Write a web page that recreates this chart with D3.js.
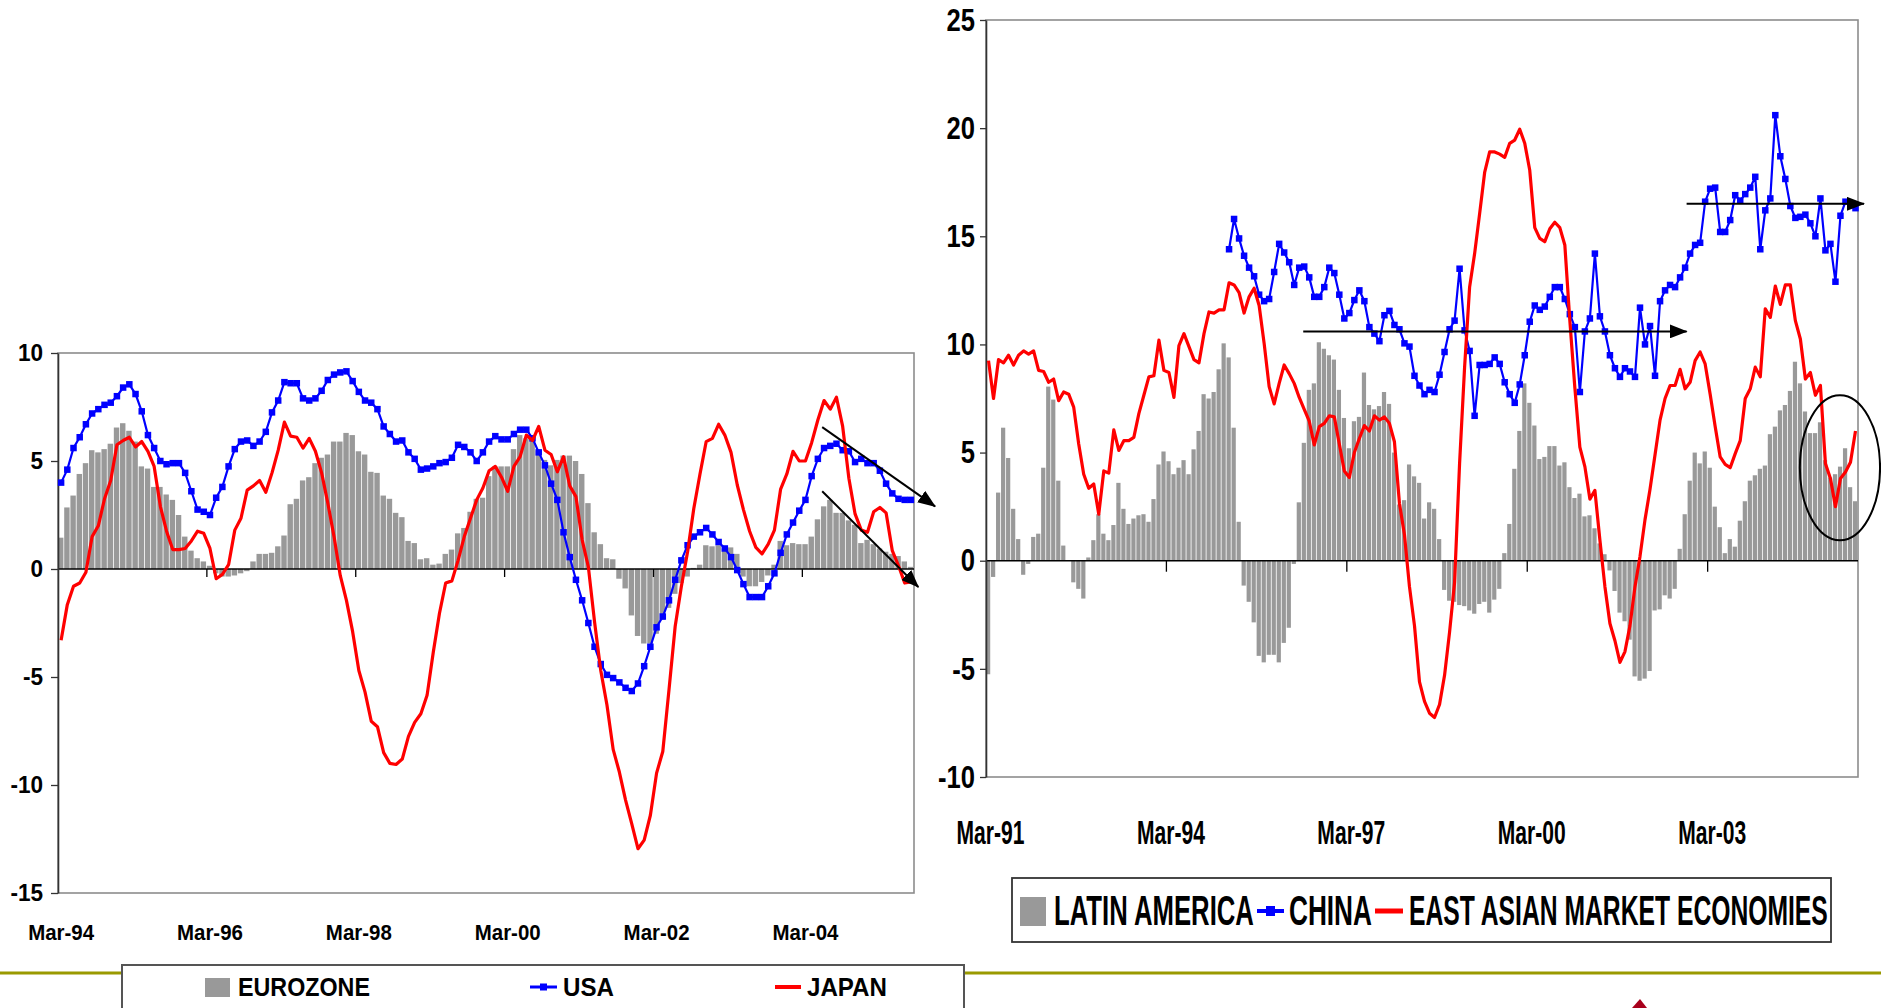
<!DOCTYPE html>
<html>
<head>
<meta charset="utf-8">
<script src="https://cdn.jsdelivr.net/npm/d3@7"></script>
<style>
  body { margin: 0; background: #fff; }
  svg { display: block; }
</style>
</head>
<body>
<svg id="chart" width="1881" height="1008"></svg>
<script>
// ---- data: left panel (monthly, Mar-94 .. Aug-05)
var leftCats = d3.timeMonth.range(new Date(1994, 2, 1), new Date(2005, 8, 1));
var leftTickLabels = ["Mar-94", "Mar-96", "Mar-98", "Mar-00", "Mar-02", "Mar-04"];
var leftYTicks = [10, 5, 0, -5, -10, -15];

var eurozone = [
  1.45, 2.85, 3.4, 4.4, 4.9, 5.5, 5.4, 5.55, 5.8, 6.55, 6.75, 6.4,
  5.9, 4.75, 4.65, 3.8, 3.8, 3.45, 3.2, 2.5, 1.5, 0.85, 0.5, 0.35,
  0.15, -0.2, -0.35, -0.35, -0.3, -0.2, -0.1, 0.35, 0.7, 0.7, 0.75, 1.05,
  1.55, 3.0, 3.25, 4.1, 4.25, 4.9, 5.15, 5.3, 5.9, 5.9, 6.3, 6.2,
  5.45, 5.3, 4.5, 4.45, 3.4, 3.25, 2.6, 2.4, 1.3, 1.2, 0.45, 0.5,
  0.2, 0.25, 0.7, 0.9, 1.65, 1.9, 2.65, 3.25, 3.3, 4.3, 4.75, 4.75,
  4.75, 5.55, 6.2, 6.05, 5.95, 5.5, 5.05, 4.8, 5.05, 5.25, 5.25, 5.0,
  4.4, 3.05, 1.7, 1.15, 0.5, 0.45, -0.45, -0.9, -2.15, -3.1, -3.45, -3.45,
  -3.0, -2.35, -1.8, -1.15, -0.65, -0.35, 0.05, 0.2, 1.1, 1.05, 1.1, 0.95,
  1.0, 0.7, -0.35, -0.8, -0.8, -0.6, -0.3, 0.2, 1.3, 1.1, 1.2, 1.15,
  1.15, 1.5, 2.3, 2.9, 3.2, 2.6, 2.6, 2.25, 2.05, 1.2, 1.35, 1.15,
  0.95, 0.8, 0.7, 0.6, 0.35, 0.1
];

var usa = [
  4.0, 4.6, 5.6, 6.1, 6.7, 7.2, 7.4, 7.6, 7.7, 8.0, 8.4, 8.55,
  8.1, 7.3, 6.2, 5.6, 5.0, 4.85, 4.9, 4.9, 4.45, 3.6, 2.75, 2.65,
  2.5, 3.3, 3.8, 4.75, 5.55, 5.9, 5.95, 5.7, 5.9, 6.35, 7.25, 7.8,
  8.65, 8.6, 8.6, 7.9, 7.8, 7.9, 8.25, 8.75, 9.0, 9.1, 9.15, 8.7,
  8.2, 7.8, 7.7, 7.4, 6.6, 6.25, 5.9, 5.95, 5.4, 5.1, 4.6, 4.65,
  4.75, 4.9, 4.95, 5.15, 5.75, 5.65, 5.4, 5.0, 5.4, 5.9, 6.15, 6.0,
  6.0, 6.25, 6.45, 6.45, 6.05, 5.4, 4.8, 3.95, 3.2, 1.7, 0.55, -0.5,
  -1.45, -2.5, -3.6, -4.4, -4.9, -5.05, -5.25, -5.5, -5.65, -5.3, -4.5, -3.6,
  -2.7, -2.2, -1.45, -0.5, 0.4, 1.1, 1.5, 1.7, 1.9, 1.6, 1.25, 0.95,
  0.55, -0.05, -0.7, -1.3, -1.3, -1.3, -0.8, -0.2, 0.75, 1.6, 2.15, 2.7,
  3.2, 4.3, 5.1, 5.6, 5.7, 5.8, 5.5, 5.45, 4.95, 5.1, 4.9, 4.9,
  4.55, 3.95, 3.5, 3.25, 3.2, 3.2
];

var japan = [
  -3.3, -1.65, -0.8, -0.65, -0.15, 1.5, 2.0, 3.25, 4.1, 5.75, 5.95, 6.1,
  5.65, 5.9, 5.45, 4.75, 2.9, 1.75, 0.9, 0.9, 0.95, 1.3, 1.75, 1.65,
  0.95, -0.45, -0.25, 0.2, 1.8, 2.35, 3.65, 3.85, 4.1, 3.55, 4.45, 5.5,
  6.8, 6.15, 6.1, 5.6, 6.05, 5.45, 4.45, 3.05, 1.5, -0.3, -1.45, -2.9,
  -4.7, -5.7, -7.05, -7.3, -8.5, -9.0, -9.05, -8.8, -7.75, -7.1, -6.7, -5.85,
  -3.85, -2.05, -0.65, -0.55, 0.4, 1.5, 2.35, 3.2, 3.75, 4.55, 4.75, 4.25,
  3.6, 4.75, 5.2, 6.2, 5.95, 6.6, 5.5, 5.3, 4.5, 5.2, 3.85, 3.35,
  1.35, 0.1, -2.45, -4.7, -6.3, -8.35, -9.4, -10.7, -11.8, -12.95, -12.55, -11.4,
  -9.45, -8.45, -5.6, -2.65, -0.8, 0.8, 2.8, 4.4, 5.9, 6.05, 6.7, 6.2,
  5.4, 3.9, 2.75, 1.75, 1.0, 0.7, 1.15, 1.8, 3.7, 4.4, 5.45, 5.0,
  5.0, 5.85, 6.9, 7.8, 7.4, 7.95, 6.6, 4.2, 2.55, 1.8, 1.7, 2.65,
  2.85, 2.6, 0.85, 0.15, -0.65, -0.6
];

// ---- data: right panel (monthly, Mar-91 .. Aug-05)
var rightCats = d3.timeMonth.range(new Date(1991, 2, 1), new Date(2005, 8, 1));
var rightTickLabels = ["Mar-91", "Mar-94", "Mar-97", "Mar-00", "Mar-03"];
var rightYTicks = [25, 20, 15, 10, 5, 0, -5, -10];

var latinAmerica = [
  -5.25, -0.75, 3.15, 6.15, 4.75, 2.4, 1.0, -0.65, -0.15, 1.1, 1.25, 4.3,
  8.05, 7.45, 3.7, 0.7, 0, -1.0, -1.3, -1.75, 0.15, 0.95, 2.15, 1.25,
  0.95, 1.65, 3.6, 2.4, 1.7, 1.95, 2.1, 2.15, 1.8, 2.85, 4.45, 5.05,
  4.6, 4.0, 4.3, 4.65, 4.0, 5.15, 6.0, 7.7, 7.5, 7.8, 8.85, 10.05,
  9.4, 6.15, 1.8, -1.15, -1.9, -2.85, -4.4, -4.7, -4.35, -4.35, -4.7, -3.8,
  -3.1, -0.15, 2.7, 5.45, 7.9, 8.2, 10.1, 9.8, 9.5, 9.3, 7.9, 6.6,
  5.2, 6.45, 6.65, 8.7, 7.2, 7.0, 7.15, 7.8, 7.25, 5.0, 2.6, 2.8,
  4.45, 3.9, 3.6, 1.95, 2.7, 2.4, 1.0, -1.35, -1.85, -1.9, -2.05, -2.1,
  -2.3, -2.45, -2.0, -1.9, -2.4, -1.8, -1.3, 0.35, 1.7, 4.25, 6.0, 8.2,
  7.3, 6.25, 4.7, 4.8, 5.3, 5.3, 4.4, 4.55, 3.4, 2.9, 3.1, 2.05,
  2.1, 1.5, 0.8, 0.3, -0.45, -1.4, -2.4, -2.8, -3.65, -5.35, -5.55, -5.45,
  -5.1, -2.3, -2.25, -1.6, -1.75, -1.3, 0.55, 2.15, 3.7, 5.0, 4.5, 5.05,
  4.3, 2.5, 1.55, 0.35, 1.0, 0.65, 1.85, 2.75, 3.7, 3.95, 4.25, 4.4,
  5.85, 6.2, 6.95, 7.2, 7.85, 9.2, 8.2, 6.9, 5.9, 5.9, 6.4, 4.65,
  3.85, 4.0, 4.35, 5.2, 3.4, 2.75
];

// China series starts in Mar-95 (index 48)
var chinaStart = 48;
var chinaValues = [
  14.4, 15.8, 14.9, 14.1, 13.55, 13.15, 12.3, 12.0, 12.1, 13.35, 14.65, 14.25,
  13.8, 12.75, 13.55, 13.6, 13.1, 12.2, 12.2, 12.65, 13.55, 13.3, 12.3, 11.2,
  11.45, 12.05, 12.5, 12.0, 10.8, 10.5, 10.15, 11.35, 11.55, 10.9, 10.7, 10.05,
  9.9, 8.55, 8.1, 7.7, 7.9, 7.8, 8.6, 9.65, 10.7, 11.1, 13.5, 10.65,
  9.7, 6.7, 9.05, 9.05, 9.1, 9.4, 9.1, 8.25, 7.7, 7.3, 8.15, 9.5,
  11.05, 11.8, 11.6, 11.75, 12.2, 12.65, 12.65, 12.1, 11.4, 10.8, 7.8, 10.6,
  11.2, 14.2, 11.3, 10.6, 9.5, 8.9, 8.5, 8.9, 8.75, 8.5, 11.7, 10.0,
  10.85, 8.55, 12.0, 12.5, 12.75, 12.65, 13.1, 13.55, 14.2, 14.6, 14.7, 16.6,
  17.2, 17.25, 15.2, 15.2, 15.75, 16.9, 16.65, 16.95, 17.25, 17.75, 14.4, 16.2,
  16.75, 20.6, 18.7, 17.65, 16.4, 15.85, 15.9, 16.0, 15.6, 15.0, 16.75, 14.35,
  14.65, 12.9, 15.95, 16.6, 16.45, 16.3
];
var china = rightCats.map(function (d, i) {
  return i < chinaStart ? null : chinaValues[i - chinaStart];
});

var eastAsia = [
  9.25, 7.5, 9.3, 9.15, 9.5, 9.05, 9.5, 9.7, 9.55, 9.7, 8.8, 8.75,
  8.25, 8.4, 7.4, 7.8, 7.7, 7.1, 5.4, 4.0, 3.35, 3.55, 2.15, 4.15,
  4.05, 6.05, 5.1, 5.55, 5.55, 5.7, 6.8, 7.65, 8.5, 8.55, 10.2, 8.8,
  8.7, 7.55, 9.95, 10.5, 9.9, 9.3, 9.15, 10.5, 11.5, 11.45, 11.6, 11.6,
  12.85, 12.75, 12.4, 11.45, 12.2, 12.6, 11.8, 10.05, 8.05, 7.25, 8.2, 9.05,
  8.65, 8.2, 7.55, 7.0, 6.45, 5.35, 6.2, 6.35, 6.7, 6.65, 5.4, 4.15,
  3.85, 5.0, 5.65, 6.25, 6.0, 6.7, 6.5, 6.65, 6.35, 5.5, 2.65, 1.2,
  -1.2, -3.0, -5.6, -6.5, -7.05, -7.25, -6.65, -5.3, -3.3, -1.0, 4.5, 8.95,
  12.65, 14.2, 16.05, 17.95, 18.9, 18.9, 18.8, 18.65, 19.3, 19.45, 19.95, 19.3,
  18.05, 15.4, 14.9, 14.75, 15.35, 15.65, 15.4, 14.6, 11.1, 8.0, 5.25, 4.35,
  2.85, 3.25, 0.95, -1.2, -2.9, -3.7, -4.7, -4.2, -3.0, -1.2, 0.2, 1.9,
  3.3, 4.9, 6.5, 7.5, 8.1, 8.1, 8.85, 7.95, 8.25, 9.25, 9.65, 9.1,
  7.7, 6.2, 4.8, 4.45, 4.3, 4.95, 5.55, 7.5, 7.95, 8.95, 8.5, 11.65,
  11.25, 12.7, 11.85, 12.75, 12.75, 11.1, 10.25, 8.4, 8.7, 7.65, 8.1, 4.5,
  3.8, 2.5, 3.8, 4.1, 4.55, 6.0
];

// annotations, in [month index, value] units
var leftArrows = [
  { from: [122.7, 6.57], to: [140.9, 2.9] },
  { from: [122.7, 3.6], to: [138.2, -0.83] }
];
var rightArrows = [
  { from: [62.8, 10.6], to: [139.3, 10.6] },
  { from: [139.3, 16.5], to: [174.7, 16.5] }
];
var rightCircle = { center: [169.9, 4.3], rx: 8, ry: 3.35 };

// ---- drawing
var FONT = "'Liberation Sans', Arial, Helvetica, sans-serif";
var GREY = "#999999";
var BLUE = "#0000ff";
var RED = "#ff0000";

var svg = d3.select("#chart");

svg
  .append("defs")
  .append("marker")
  .attr("id", "arrow")
  .attr("markerUnits", "userSpaceOnUse")
  .attr("viewBox", "0 0 18 14")
  .attr("markerWidth", 18)
  .attr("markerHeight", 14)
  .attr("refX", 17)
  .attr("refY", 7)
  .attr("orient", "auto")
  .append("path")
  .attr("d", "M0,0L18,7L0,14Z")
  .attr("fill", "#000");

// squeeze text horizontally (condensed look of the source) with a scale transform
function squeeze(sel, k) {
  sel.each(function () {
    var x = +this.getAttribute("x") || 0;
    this.setAttribute("x", x / k);
    this.setAttribute("transform", "scale(" + k + ",1)");
  });
}

function drawPanel(cfg) {
  var x = cfg.x, y = cfg.y;
  var g = svg.append("g");
  var x0 = x.range()[0], x1 = x.range()[1];
  var bw = x.step();
  var cx = function (i) { return x(i) + bw / 2; };

  // plot frame
  g.append("rect")
    .attr("x", x0)
    .attr("y", y.range()[1])
    .attr("width", x1 - x0)
    .attr("height", y.range()[0] - y.range()[1])
    .attr("fill", "none")
    .attr("stroke", "#8c8c8c")
    .attr("stroke-width", 1.6);

  // bars
  g.selectAll("rect.bar")
    .data(cfg.bars)
    .enter()
    .append("rect")
    .attr("class", "bar")
    .attr("x", function (d, i) { return x(i); })
    .attr("y", function (d) { return y(Math.max(0, d)); })
    .attr("width", bw - 0.8)
    .attr("height", function (d) { return Math.abs(y(d) - y(0)); })
    .attr("fill", GREY);

  // zero line + category ticks
  g.append("line")
    .attr("x1", x0).attr("x2", x1)
    .attr("y1", y(0)).attr("y2", y(0))
    .attr("stroke", "#000")
    .attr("stroke-width", 1.5);

  g.selectAll("line.xtick")
    .data(cfg.tickLabels.map(function (d, k) { return k * cfg.every; }).filter(function (d) { return d > 0; }))
    .enter()
    .append("line")
    .attr("class", "xtick")
    .attr("x1", function (d) { return x(d); })
    .attr("x2", function (d) { return x(d); })
    .attr("y1", y(0))
    .attr("y2", y(0) + cfg.xTickLen)
    .attr("stroke", "#000")
    .attr("stroke-width", 1.3);

  // y axis (plain hyphen for negatives, as in the source)
  var ax = g.append("g")
    .attr("transform", "translate(" + x0 + ",0)")
    .call(d3.axisLeft(y)
      .tickValues(cfg.yTicks)
      .tickFormat(function (d) { return String(d); })
      .tickSize(cfg.yTickLen)
      .tickPadding(cfg.yPad)
      .tickSizeOuter(0));
  ax.select(".domain").attr("stroke", "#333").attr("stroke-width", 1.6);
  ax.selectAll(".tick line").attr("stroke", "#333").attr("stroke-width", 1.3);
  ax.selectAll(".tick text")
    .attr("fill", "#000")
    .style("font-family", FONT)
    .style("font-weight", "bold")
    .style("font-size", cfg.yFont + "px")
    .call(squeeze, cfg.ySqueeze);

  // x labels
  g.selectAll("text.xlab")
    .data(cfg.tickLabels)
    .enter()
    .append("text")
    .attr("class", "xlab")
    .attr("x", function (d, k) { return cx(k * cfg.every) + cfg.xLabShift; })
    .attr("y", cfg.xLabY)
    .attr("text-anchor", "middle")
    .style("font-family", FONT)
    .style("font-weight", "bold")
    .style("font-size", cfg.xFont + "px")
    .text(function (d) { return d; })
    .call(squeeze, cfg.xSqueeze);

  // blue series with square markers
  var blueLine = d3.line()
    .defined(function (d) { return d != null; })
    .x(function (d, i) { return cx(i); })
    .y(function (d) { return y(d); });
  g.append("path")
    .datum(cfg.blue)
    .attr("d", blueLine)
    .attr("fill", "none")
    .attr("stroke", BLUE)
    .attr("stroke-width", 2.2);
  var ms = cfg.marker;
  g.selectAll("rect.mk")
    .data(cfg.blue.map(function (d, i) { return { v: d, i: i }; }).filter(function (d) { return d.v != null; }))
    .enter()
    .append("rect")
    .attr("class", "mk")
    .attr("x", function (d) { return cx(d.i) - ms / 2; })
    .attr("y", function (d) { return y(d.v) - ms / 2; })
    .attr("width", ms)
    .attr("height", ms)
    .attr("fill", BLUE);

  // red series
  g.append("path")
    .datum(cfg.red)
    .attr("d", d3.line().x(function (d, i) { return cx(i); }).y(function (d) { return y(d); }))
    .attr("fill", "none")
    .attr("stroke", RED)
    .attr("stroke-width", 3.2)
    .attr("stroke-linejoin", "round");

  // arrows
  g.selectAll("line.arrow")
    .data(cfg.arrows)
    .enter()
    .append("line")
    .attr("class", "arrow")
    .attr("x1", function (d) { return cx(0) + d.from[0] * bw; })
    .attr("y1", function (d) { return y(d.from[1]); })
    .attr("x2", function (d) { return cx(0) + d.to[0] * bw; })
    .attr("y2", function (d) { return y(d.to[1]); })
    .attr("stroke", "#000")
    .attr("stroke-width", 2)
    .attr("marker-end", "url(#arrow)");

  return { g: g, cx: cx, bw: bw };
}

var xL = d3.scaleBand().domain(d3.range(leftCats.length)).range([58, 914]);
var yL = d3.scaleLinear().domain([-15, 10]).range([893, 353]);
var xR = d3.scaleBand().domain(d3.range(rightCats.length)).range([986, 1858]);
var yR = d3.scaleLinear().domain([-10, 25]).range([777, 20]);

drawPanel({
  x: xL, y: yL, bars: eurozone, blue: usa, red: japan,
  yTicks: leftYTicks, tickLabels: leftTickLabels, every: 24,
  xTickLen: 8, yTickLen: 7, yPad: 8, yFont: 24, ySqueeze: 0.94,
  xFont: 22, xSqueeze: 0.93, xLabY: 940, xLabShift: 0,
  marker: 6.5, arrows: leftArrows
});

var right = drawPanel({
  x: xR, y: yR, bars: latinAmerica, blue: china, red: eastAsia,
  yTicks: rightYTicks, tickLabels: rightTickLabels, every: 36,
  xTickLen: 11, yTickLen: 6, yPad: 5, yFont: 32, ySqueeze: 0.8,
  xFont: 34, xSqueeze: 0.62, xLabY: 844, xLabShift: 2,
  marker: 6.5, arrows: rightArrows
});

right.g.append("ellipse")
  .attr("cx", right.cx(0) + rightCircle.center[0] * right.bw)
  .attr("cy", yR(rightCircle.center[1]))
  .attr("rx", rightCircle.rx * right.bw)
  .attr("ry", yR(0) - yR(rightCircle.ry))
  .attr("fill", "none")
  .attr("stroke", "#000")
  .attr("stroke-width", 2);

// ---- slide decoration: olive rule and logo corner
svg.append("line")
  .attr("x1", 0).attr("x2", 1881)
  .attr("y1", 973).attr("y2", 973)
  .attr("stroke", "#9a9a00")
  .attr("stroke-width", 3);
svg.append("path")
  .attr("d", "M1632,1008L1640,999L1647,1008Z")
  .attr("fill", "#a8001c");

// ---- legends: each text is squeezed to the width it takes in the source
function legendText(g, items, y, size) {
  g.selectAll("text")
    .data(items)
    .enter()
    .append("text")
    .attr("x", function (d) { return d.x; })
    .attr("y", y)
    .style("font-family", FONT)
    .style("font-weight", "bold")
    .style("font-size", size + "px")
    .text(function (d) { return d.text; })
    .each(function (d) {
      var k = d.w / this.getComputedTextLength();
      d3.select(this).call(squeeze, k);
    });
}

var legL = svg.append("g");
legL.append("rect")
  .attr("x", 122).attr("y", 965).attr("width", 842).attr("height", 60)
  .attr("fill", "#fff").attr("stroke", "#555").attr("stroke-width", 2);
legL.append("rect").attr("x", 205).attr("y", 978).attr("width", 25).attr("height", 19).attr("fill", GREY);
legL.append("line").attr("x1", 530).attr("x2", 557).attr("y1", 987).attr("y2", 987).attr("stroke", BLUE).attr("stroke-width", 3);
legL.append("rect").attr("x", 540).attr("y", 983.5).attr("width", 7).attr("height", 7).attr("fill", BLUE);
legL.append("line").attr("x1", 775).attr("x2", 801).attr("y1", 987).attr("y2", 987).attr("stroke", RED).attr("stroke-width", 4);
legendText(legL, [
  { text: "EUROZONE", x: 238, w: 132 },
  { text: "USA", x: 563, w: 51 },
  { text: "JAPAN", x: 807, w: 80 }
], 996, 25);

var legR = svg.append("g");
legR.append("rect")
  .attr("x", 1012).attr("y", 878).attr("width", 819).attr("height", 64)
  .attr("fill", "#fff").attr("stroke", "#333").attr("stroke-width", 1.8);
legR.append("rect").attr("x", 1020).attr("y", 897).attr("width", 26).attr("height", 29).attr("fill", GREY);
legR.append("line").attr("x1", 1257).attr("x2", 1284).attr("y1", 911).attr("y2", 911).attr("stroke", BLUE).attr("stroke-width", 4);
legR.append("rect").attr("x", 1266).attr("y", 906).attr("width", 9).attr("height", 10).attr("fill", BLUE);
legR.append("line").attr("x1", 1375).attr("x2", 1403).attr("y1", 911).attr("y2", 911).attr("stroke", RED).attr("stroke-width", 5);
legendText(legR, [
  { text: "LATIN AMERICA", x: 1054, w: 200 },
  { text: "CHINA", x: 1289, w: 83 },
  { text: "EAST ASIAN MARKET ECONOMIES", x: 1409, w: 419 }
], 925, 42);
</script>
</body>
</html>
